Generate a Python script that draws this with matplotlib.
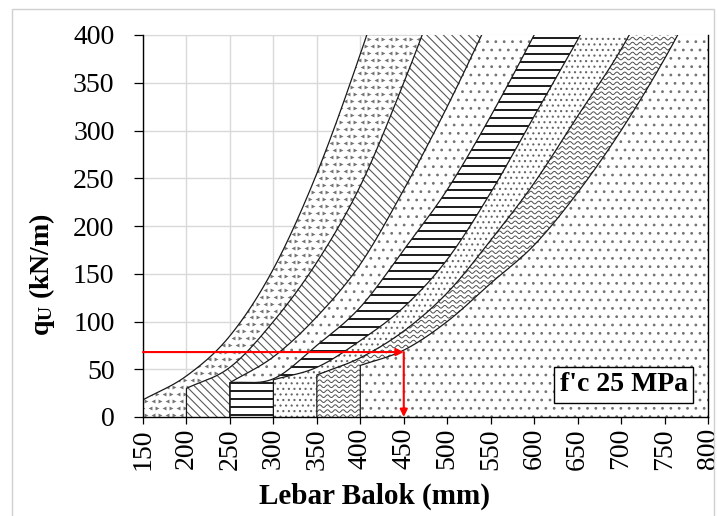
import numpy as np
import matplotlib
matplotlib.use('Agg')
import matplotlib.pyplot as plt
from matplotlib.patches import Polygon, Rectangle
from matplotlib.collections import LineCollection

# ---------------- data ----------------
x_ticks = list(range(150, 801, 50))
y_ticks = list(range(0, 401, 50))

# boundary curves (beam width b in mm -> q_U in kN/m), upper-left edge of each band
c1_x = [150, 200, 250, 300, 350, 400, 450]
c1_q = [18, 43, 85, 155, 255, 380, 520]
c2_x = [200, 250, 300, 350, 400, 450, 500]
c2_q = [30, 52, 100, 162, 242, 350, 470]
c3_x = [250, 300, 350, 400, 450, 500, 550]
c3_q = [36, 63, 105, 160, 238, 325, 420]
c4_x = [250, 300, 350, 400, 450, 500, 550, 600, 650]
c4_q = [36, 40, 75, 115, 175, 238, 315, 400, 490]
c5_x = [300, 350, 400, 450, 500, 550, 600, 650, 700]
c5_q = [39, 52, 80, 115, 165, 235, 315, 395, 480]
c6_x = [350, 400, 450, 500, 550, 600, 650, 700, 750]
c6_q = [44, 62, 90, 130, 185, 245, 315, 385, 470]
c7_x = [400, 450, 500, 550, 600, 650, 700, 750, 800]
c7_q = [54, 70, 100, 140, 180, 235, 300, 375, 460]

read_b = 450
read_q = 68
label_text = "f'c 25 MPa"
x_label = "Lebar Balok (mm)"
y_label = r"$\mathbf{q_U}$ (kN/m)"

# ---------------- style ----------------
plt.rcParams['font.family'] = ['Liberation Serif', 'DejaVu Serif']
plt.rcParams['mathtext.fontset'] = 'custom'
plt.rcParams['mathtext.rm'] = 'Liberation Serif'
plt.rcParams['mathtext.it'] = 'Liberation Serif:italic'
plt.rcParams['mathtext.bf'] = 'Liberation Serif:bold'
plt.rcParams['hatch.linewidth'] = 0.8


def smooth(xs, qs, n=40):
    """Catmull-Rom smoothing through the data nodes (like a smoothed line)."""
    pts = np.column_stack([xs, qs]).astype(float)
    p = np.vstack([2 * pts[0] - pts[1], pts, 2 * pts[-1] - pts[-2]])
    out = []
    t = np.linspace(0, 1, n, endpoint=False)[:, None]
    for i in range(1, len(p) - 2):
        p0, p1, p2, p3 = p[i - 1], p[i], p[i + 1], p[i + 2]
        seg = 0.5 * ((2 * p1) + (-p0 + p2) * t + (2 * p0 - 5 * p1 + 4 * p2 - p3) * t ** 2
                     + (-p0 + 3 * p1 - 3 * p2 + p3) * t ** 3)
        out.append(seg)
    out.append(pts[-1:])
    return np.vstack(out)


W, H = 717, 516
fig = plt.figure(figsize=(W / 100, H / 100), dpi=100)
ax = fig.add_axes([143 / W, (H - 417) / H, 565 / W, 382 / H])
ax.set_xlim(150, 800)
ax.set_ylim(0, 400)

curves = [(c1_x, c1_q), (c2_x, c2_q), (c3_x, c3_q), (c4_x, c4_q),
          (c5_x, c5_q), (c6_x, c6_q), (c7_x, c7_q)]
hatches = ['', '\\\\\\\\', '..', '', '...', '', '..']
hatch_cols = ['0.4', '0.35', '0.45', '0.2', '0.4', '0.3', '0.45']

polys = []
smooth_curves = []
for k, (xs, qs) in enumerate(curves):
    sc = smooth(xs, qs)
    smooth_curves.append(sc)
    qd = np.minimum(sc[:, 1], 400.5)
    verts = [(xs[0], 0)] + list(zip(sc[:, 0], qd)) + [(800, qd[-1]), (800, 0)]
    p = Polygon(verts, closed=True, facecolor='white', edgecolor=hatch_cols[k],
                hatch=hatches[k] if hatches[k] else None, lw=0, zorder=2 + k)
    ax.add_patch(p)
    polys.append(p)

# chevron texture for first band
gx = np.arange(146, 520, 8.0)
gy = np.arange(2, 420, 7.3)
left_pts, right_pts = [], []
for i, yy in enumerate(gy):
    for j, xx in enumerate(gx):
        xo = xx + (4.0 if i % 2 else 0.0)
        if (i + j) % 2 == 0:
            left_pts.append((xo, yy))
        else:
            right_pts.append((xo, yy))
left_pts = np.array(left_pts)
right_pts = np.array(right_pts)
s1 = ax.scatter(left_pts[:, 0], left_pts[:, 1], marker='<', s=8, color='0.45', lw=0, zorder=2.5)
s2 = ax.scatter(right_pts[:, 0], right_pts[:, 1], marker='>', s=8, color='0.45', lw=0, zorder=2.5)
s1.set_clip_path(polys[0])
s2.set_clip_path(polys[0])

# horizontal stripes for band D
segs = [[(240, yy), (830, yy)] for yy in np.arange(2, 420, 8.4)]
lc = LineCollection(segs, colors='0.1', linewidths=1.4, zorder=5.5)
ax.add_collection(lc)
lc.set_clip_path(polys[3])

# wavy lines for band F
wx = np.arange(340, 830, 0.5)
wsegs = [np.column_stack([wx, y0 + 1.4 * np.sin(2 * np.pi * wx / 9.0)])
         for y0 in np.arange(1, 420, 5.2)]
wc = LineCollection(wsegs, colors='0.3', linewidths=0.7, zorder=7.5)
ax.add_collection(wc)
wc.set_clip_path(polys[5])

# outlines
for (xs, qs), sc in zip(curves, smooth_curves):
    ax.plot(np.r_[xs[0], sc[:, 0]], np.r_[0, sc[:, 1]], color='0.1', lw=0.9, zorder=20)

# reading arrows
ax.annotate('', xy=(read_b, read_q), xytext=(150, read_q),
            arrowprops=dict(arrowstyle='-|>', color='#ff0000', lw=1.5,
                            mutation_scale=11, shrinkA=0, shrinkB=0), zorder=25)
ax.annotate('', xy=(read_b, 0), xytext=(read_b, read_q),
            arrowprops=dict(arrowstyle='-|>', color='#ff0000', lw=1.5,
                            mutation_scale=11, shrinkA=0, shrinkB=0), zorder=25)

ax.text(0.851, 0.084, label_text, transform=ax.transAxes, ha='center', va='center',
        fontsize=20, fontweight='bold', zorder=30,
        bbox=dict(boxstyle='square,pad=0.2', fc='white', ec='black', lw=1.0))

# axes styling
ax.set_xticks(x_ticks)
ax.set_yticks(y_ticks)
ax.set_xticklabels([str(v) for v in x_ticks], rotation=90, fontsize=20)
ax.set_yticklabels([str(v) for v in y_ticks], fontsize=20)
ax.tick_params(axis='y', direction='out', length=6.5, width=0.9, pad=14)
ax.tick_params(axis='x', direction='out', length=5, width=0.9, pad=3)
ax.grid(True, color='#d9d9d9', lw=1.0)
ax.set_axisbelow(True)
for side in ['left', 'bottom', 'right']:
    ax.spines[side].set_color('black')
    ax.spines[side].set_linewidth(1.0)
    ax.spines[side].set_zorder(22)
ax.spines['top'].set_color('#d9d9d9')

ax.set_xlabel(x_label, fontsize=21, fontweight='bold')
ax.xaxis.set_label_coords(0.41, -0.172)
ax.set_ylabel(y_label, fontsize=20, fontweight='bold')
ax.yaxis.set_label_coords(-0.152, 0.372)

# outer frame
fig.add_artist(Rectangle((12 / W, -0.01), 702 / W, (H - 9) / H + 0.01,
                         transform=fig.transFigure, fill=False, ec='#d0d0d0', lw=1.0))

fig.savefig('out.png', dpi=100)
